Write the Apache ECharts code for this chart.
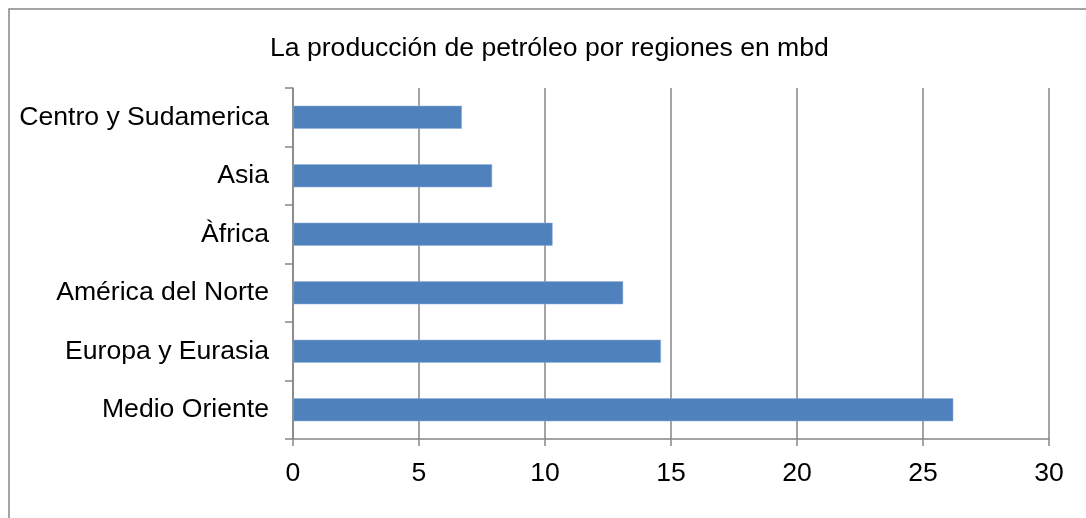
<!DOCTYPE html>
<html>
<head>
<meta charset="utf-8">
<script src="https://cdn.jsdelivr.net/npm/echarts@6/dist/echarts.min.js"></script>
<style>
  html, body { margin: 0; padding: 0; background: #fff; }
  #main { width: 1086px; height: 518px; }
</style>
</head>
<body>
<div id="main"></div>
<script>
const titleText = 'La producción de petróleo por regiones en mbd';
const regions = ['Centro y Sudamerica', 'Asia', 'Àfrica', 'América del Norte', 'Europa y Eurasia', 'Medio Oriente'];
const production = [6.7, 7.9, 10.3, 13.1, 14.6, 26.2];

const gray = '#868686';
const font = 'Liberation Sans, Arial, sans-serif';

const chart = echarts.init(document.getElementById('main'));
chart.setOption({
  backgroundColor: '#fff',
  animation: false,
  graphic: [{
    type: 'rect',
    shape: { x: 9, y: 9, width: 1100, height: 540 },
    style: { fill: 'none', stroke: gray, lineWidth: 1.5 },
    silent: true
  }],
  title: {
    text: titleText,
    left: 265,
    top: 30,
    textStyle: { fontFamily: font, fontSize: 26.6, fontWeight: 'normal', color: '#000' }
  },
  grid: { left: 293, right: 37, top: 88, bottom: 79 },
  xAxis: {
    type: 'value',
    min: 0,
    max: 30,
    interval: 5,
    axisLine: { show: true, lineStyle: { color: gray, width: 1.5 } },
    axisTick: { show: true, length: 7, lineStyle: { color: gray, width: 1.5 } },
    splitLine: { show: true, lineStyle: { color: gray, width: 1.5 } },
    axisLabel: { margin: 21, fontFamily: font, fontSize: 26.6, color: '#000' }
  },
  yAxis: {
    type: 'category',
    data: regions,
    inverse: true,
    axisLine: { show: true, lineStyle: { color: gray, width: 1.5 } },
    axisTick: { show: true, length: 8, lineStyle: { color: gray, width: 1.5 } },
    axisLabel: { margin: 24, fontFamily: font, fontSize: 26.6, color: '#000' }
  },
  series: [{
    type: 'bar',
    data: production,
    barWidth: 23,
    itemStyle: { color: '#4F81BD', borderColor: '#8FAEDB', borderWidth: 0.5 }
  }]
});
</script>
</body>
</html>
